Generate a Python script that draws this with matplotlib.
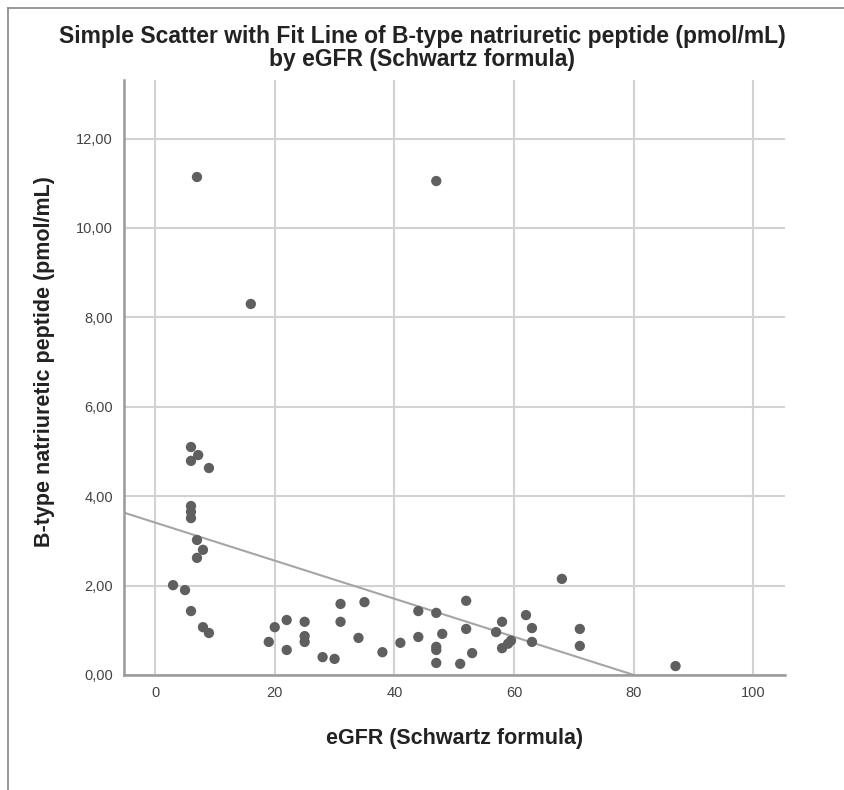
import matplotlib.pyplot as plt
from matplotlib.lines import Line2D
from matplotlib.ticker import FuncFormatter

plt.rcParams['font.family'] = ['Liberation Sans', 'DejaVu Sans']

# eGFR (Schwartz formula) vs B-type natriuretic peptide (pmol/mL)
egfr = [7, 47, 16, 6, 7.2, 6, 9, 6, 6, 6, 7, 8, 7, 3, 5, 6, 8, 9,
        19, 20, 22, 22, 25, 25, 25, 28, 30, 31, 31, 35, 34, 38, 41,
        44, 44, 47, 48, 47, 47, 47, 51, 53, 52, 52, 57, 58, 58, 59, 59.5,
        62, 63, 63, 68, 71, 71, 87]
bnp = [11.14, 11.05, 8.30, 5.10, 4.92, 4.79, 4.63, 3.78, 3.65, 3.51,
       3.02, 2.80, 2.62, 2.01, 1.90, 1.43, 1.07, 0.94,
       0.74, 1.07, 1.23, 0.56, 1.19, 0.87, 0.74, 0.40, 0.36, 1.59, 1.19,
       1.63, 0.83, 0.51, 0.72, 1.43, 0.85, 1.39, 0.92, 0.63, 0.56, 0.27,
       0.25, 0.49, 1.66, 1.03, 0.96, 1.19, 0.60, 0.70, 0.77,
       1.34, 1.05, 0.74, 2.15, 1.03, 0.65, 0.20]

# fit line: intercept and slope
fit_x = [-5.2, 80]
fit_b0 = 3.41
fit_b1 = -0.0426

xticks = [0, 20, 40, 60, 80, 100]
yticks = [0, 2, 4, 6, 8, 10, 12]

fig = plt.figure(figsize=(8.45, 7.9), dpi=100)
ax = fig.add_axes([124 / 845, 115 / 790, 661 / 845, 595 / 790])

ax.grid(True, color='#d2d2d2', linewidth=1.5)
ax.set_axisbelow(True)
ax.scatter(egfr, bnp, s=55, color='#5f5f5f', edgecolors='none', zorder=3)
ax.plot(fit_x, [fit_b0 + fit_b1 * v for v in fit_x], color='#a5a5a5', linewidth=1.5, zorder=2)

ax.set_xlim(-5.2, 105.3)
ax.set_ylim(0, 13.31)
ax.set_xticks(xticks)
ax.set_yticks(yticks)
ax.yaxis.set_major_formatter(FuncFormatter(lambda v, p: f'{v:.2f}'.replace('.', ',')))
ax.tick_params(length=0, labelsize=10.5, labelcolor='#444444', pad=8)

for side in ['top', 'right']:
    ax.spines[side].set_visible(False)
for side in ['left', 'bottom']:
    ax.spines[side].set_color('#9a9a9a')
    ax.spines[side].set_linewidth(1.8)

ax.set_xlabel('eGFR (Schwartz formula)', fontsize=15.5, fontweight='bold', color='#222222', labelpad=20)
ax.set_ylabel('B-type natriuretic peptide (pmol/mL)', fontsize=15.5, fontweight='bold', color='#222222')
ax.yaxis.set_label_coords(-0.105, 0.527)

fig.text(0.5, 0.968, 'Simple Scatter with Fit Line of B-type natriuretic peptide (pmol/mL)\nby eGFR (Schwartz formula)',
         ha='center', va='top', fontsize=16.5, fontweight='bold', color='#222222', linespacing=1.0)

# frame around the chart
fig.add_artist(Line2D([8 / 845, 8 / 845], [0, 1 - 8 / 790], color='#888888', linewidth=1.2))
fig.add_artist(Line2D([8 / 845, 1], [1 - 8 / 790, 1 - 8 / 790], color='#888888', linewidth=1.2))

fig.savefig('out.png', dpi=100)
